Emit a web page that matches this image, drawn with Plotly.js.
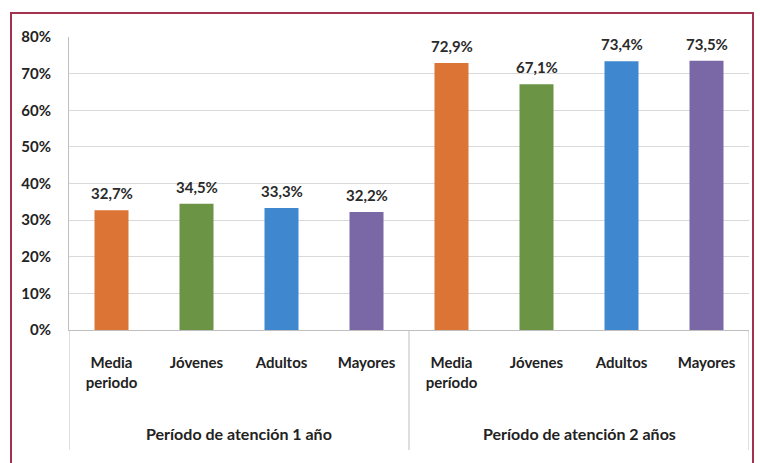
<!DOCTYPE html>
<html>
<head>
<meta charset="utf-8">
<script src="https://cdn.plot.ly/plotly-3.0.1.min.js"></script>
<style>
html,body{margin:0;padding:0;background:#fff;overflow:hidden;}
#frame{position:absolute;left:10px;top:12px;width:744px;height:470px;border:2px solid #A3324F;box-sizing:border-box;}
#chart{position:absolute;left:0;top:0;width:760px;height:463px;}
</style>
</head>
<body>
<div id="frame"></div>
<div id="chart"></div>
<script>
const groups = ["Período de atención 1 año", "Período de atención 2 años"];
const categories1 = ["Media<br>periodo", "Jóvenes", "Adultos", "Mayores"];
const categories2 = ["Media<br>período", "Jóvenes", "Adultos", "Mayores"];
const values1 = [32.7, 34.5, 33.3, 32.2];
const values2 = [72.9, 67.1, 73.4, 73.5];
const yTicks = [0, 10, 20, 30, 40, 50, 60, 70, 80];

const palette = ["#DC7435", "#6B9444", "#3F88CF", "#7A68A6"];
const FONT = "Lato, 'Open Sans', sans-serif";

const labels = categories1.concat(categories2);
const values = values1.concat(values2);
const xs = labels.map((_, i) => i);
const colors = xs.map(i => palette[i % palette.length]);
const texts = values.map(v => v.toFixed(1).replace('.', ',') + '%');

const trace = {
  type: 'bar',
  x: xs,
  y: values,
  width: 0.4,
  marker: {color: colors},
  hoverinfo: 'skip'
};

const plotH = 293;
const py = px => (330 - px) / plotH;

const nPer = categories1.length;
const shapes = [-0.5, nPer - 0.5, 2 * nPer - 0.5].map(x => ({
  type: 'line', xref: 'x', yref: 'paper',
  x0: x, x1: x, y0: 0, y1: py(450),
  line: {color: '#BFBFBF', width: 1}
}));

const groupAnn = groups.map((g, gi) => ({
  text: g, xref: 'x', yref: 'paper',
  x: gi * nPer + (nPer - 1) / 2, y: py(433),
  showarrow: false, xanchor: 'center', yanchor: 'middle',
  font: {family: FONT, size: 16, color: '#222222', weight: 'bold'}
}));

const valueAnn = values.map((v, i) => ({
  text: texts[i], xref: 'x', yref: 'y',
  x: xs[i], y: v, yshift: 6,
  showarrow: false, xanchor: 'center', yanchor: 'bottom',
  font: {family: FONT, size: 15, color: '#2a2a2a', weight: 'bold'}
}));

const layout = {
  width: 760, height: 463,
  margin: {l: 69, r: 11, t: 37, b: 133},
  paper_bgcolor: 'rgba(0,0,0,0)',
  plot_bgcolor: 'rgba(0,0,0,0)',
  showlegend: false,
  xaxis: {
    range: [-0.5, 2 * nPer - 0.5],
    tickvals: xs, ticktext: labels,
    ticks: 'outside', ticklen: 19, tickcolor: 'rgba(0,0,0,0)',
    showgrid: false, zeroline: false,
    showline: true, linecolor: '#BFBFBF', linewidth: 1,
    tickfont: {family: FONT, size: 15, color: '#222222', weight: 'bold'},
    fixedrange: true
  },
  yaxis: {
    range: [0, 80],
    tickvals: yTicks,
    ticktext: yTicks.map(t => t + '%'),
    showgrid: true, gridcolor: '#D9D9D9', gridwidth: 1,
    zeroline: false,
    showline: true, linecolor: '#BFBFBF', linewidth: 1,
    ticks: 'outside', ticklen: 14, tickcolor: 'rgba(0,0,0,0)',
    tickfont: {family: FONT, size: 15, color: '#222222', weight: 'bold'},
    fixedrange: true
  },
  shapes: shapes,
  annotations: groupAnn.concat(valueAnn)
};

Plotly.newPlot('chart', [trace], layout, {displayModeBar: false, staticPlot: true});
</script>
</body>
</html>
